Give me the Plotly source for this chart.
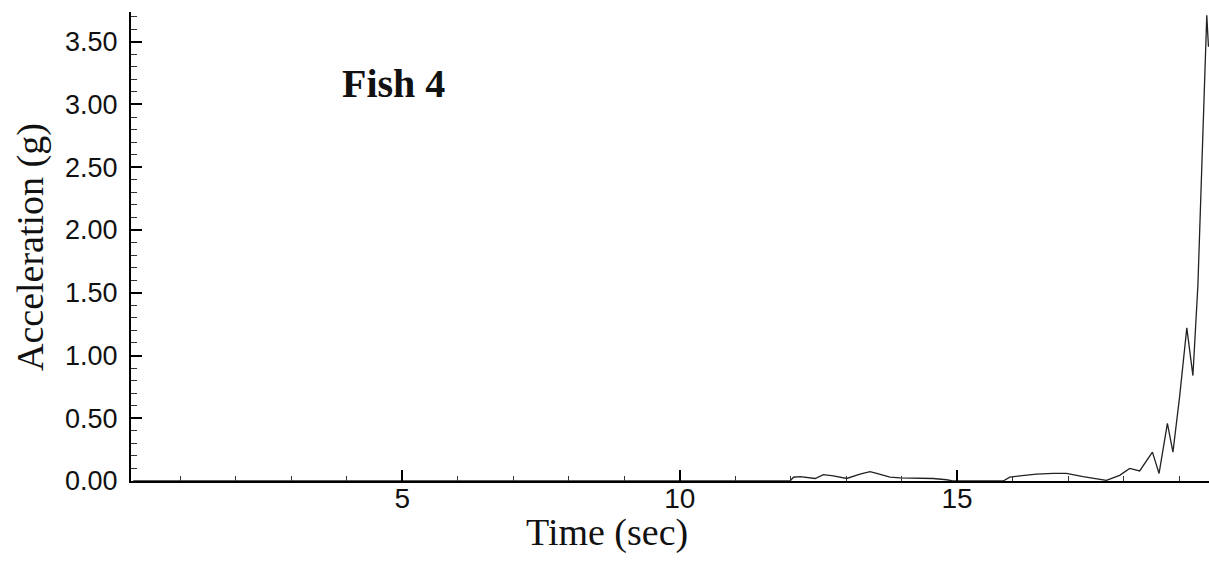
import plotly.graph_objects as go

# Accelerometer trace for fish 4: time (s) and acceleration (g)
time_sec = [0.15, 11.99, 12.05, 12.17, 12.44, 12.59, 12.77, 13.01, 13.25, 13.43,
            13.55, 13.79, 13.97, 14.57, 14.81, 14.92, 15.83, 15.95, 16.13, 16.43,
            16.73, 16.97, 17.27, 17.57, 17.69, 17.93, 18.11, 18.29, 18.52, 18.64,
            18.79, 18.89, 19.01, 19.14, 19.25, 19.34, 19.50, 19.53]
accel_g = [0.0, 0.0, 0.03, 0.035, 0.02, 0.05, 0.04, 0.02, 0.055, 0.075,
           0.06, 0.03, 0.025, 0.02, 0.01, 0.0, 0.0, 0.03, 0.04, 0.055,
           0.06, 0.06, 0.035, 0.01, 0.005, 0.045, 0.10, 0.08, 0.23, 0.06,
           0.46, 0.23, 0.67, 1.22, 0.84, 1.56, 3.71, 3.46]

x_ticks = [5, 10, 15]
y_ticks = [0.0, 0.5, 1.0, 1.5, 2.0, 2.5, 3.0, 3.5]

title_text = "Fish 4"
x_title = "Time (sec)"
y_title = "Acceleration (g)"

serif = "Liberation Serif, Times New Roman, serif"
sans = "Liberation Sans, Arial, sans-serif"

fig = go.Figure()
fig.add_trace(go.Scatter(
    x=time_sec, y=accel_g, mode="lines",
    line=dict(color="#222222", width=1.3),
    hoverinfo="skip", showlegend=False,
))

fig.update_layout(
    width=1209, height=561,
    margin=dict(l=131, r=0, t=12, b=80),
    paper_bgcolor="white", plot_bgcolor="white",
    showlegend=False,
    xaxis=dict(
        range=[0.11, 19.54], tickvals=x_ticks, ticktext=[str(v) for v in x_ticks],
        ticks="inside", ticklen=11, tickwidth=2, tickcolor="black",
        minor=dict(dtick=1, tick0=0, ticks="inside", ticklen=5, tickwidth=1, tickcolor="#333333"),
        showline=True, linecolor="black", linewidth=2,
        showgrid=False, zeroline=False,
        tickfont=dict(family=sans, size=28, color="#111111"),
        ticklabelstandoff=-9,
    ),
    yaxis=dict(
        range=[0, 3.737], tickvals=y_ticks, tickformat=".2f",
        ticks="inside", ticklen=11, tickwidth=2, tickcolor="black",
        minor=dict(dtick=0.1, tick0=0, ticks="inside", ticklen=6, tickwidth=1, tickcolor="#333333"),
        showline=True, linecolor="black", linewidth=2,
        showgrid=False, zeroline=False,
        tickfont=dict(family=sans, size=27, color="#111111"),
        ticklabelstandoff=6,
    ),
    annotations=[
        dict(text="<b>" + title_text + "</b>", xref="paper", yref="paper",
             x=(393 - 131) / 1078, y=(481 - 84) / 469, xanchor="center", yanchor="middle",
             showarrow=False, font=dict(family=serif, size=40, color="#111111")),
        dict(text=x_title, xref="paper", yref="paper",
             x=(607 - 131) / 1078, y=(481 - 532) / 469, xanchor="center", yanchor="middle",
             showarrow=False, font=dict(family=serif, size=38, color="#111111")),
        dict(text=y_title, xref="paper", yref="paper", textangle=-90,
             x=(30 - 131) / 1078, y=(481 - 247) / 469, xanchor="center", yanchor="middle",
             showarrow=False, font=dict(family=serif, size=38, color="#111111")),
    ],
)

fig.write_html("out.html")
